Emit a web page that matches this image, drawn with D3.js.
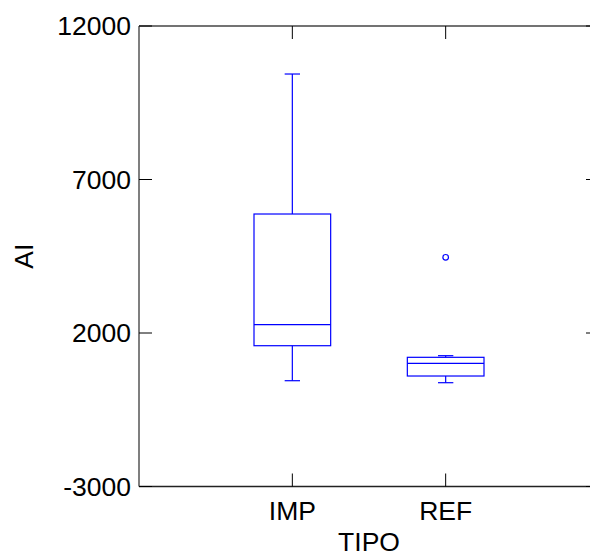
<!DOCTYPE html>
<html>
<head>
<meta charset="utf-8">
<script src="https://cdn.jsdelivr.net/npm/d3@7"></script>
<style>
  body { margin: 0; background: #fff; }
  svg text { font-family: "Liberation Sans", Arial, sans-serif; fill: #000; }
</style>
</head>
<body>
<div id="chart"></div>
<script>
// Box plot stats
const categories = ['IMP', 'REF'];
const whiskerLow = [446, 381];
const q1 = [1586, 599];
const median = [2270, 1013];
const q3 = [5876, 1208];
const whiskerHigh = [10436, 1261];
const outliers = [[], [4466]];
const yTicks = [-3000, 2000, 7000, 12000];

const width = 590, height = 553;
const margin = { top: 26, right: -9, bottom: 66.5, left: 139 };
const innerW = width - margin.left - margin.right;
const innerH = height - margin.top - margin.bottom;

const svg = d3.select('#chart')
    .append('svg')
    .attr('width', width)
    .attr('height', height);

const g = svg.append('g')
    .attr('transform', `translate(${margin.left},${margin.top})`);

// Scales
const x = d3.scaleLinear().domain([0, 3]).range([0, innerW]);
const y = d3.scaleLinear().domain([-3000, 12000]).range([innerH, 0]);

const tickLen = 13;
const fontSize = 26.5;

// Frame
g.append('line').attr('x1', 0).attr('x2', 0).attr('y1', 0).attr('y2', innerH)
    .attr('stroke', '#555').attr('stroke-width', 1.5);
g.append('line').attr('x1', 0).attr('x2', innerW).attr('y1', innerH).attr('y2', innerH)
    .attr('stroke', '#222').attr('stroke-width', 1.5);
g.append('line').attr('x1', 0).attr('x2', innerW).attr('y1', 0).attr('y2', 0)
    .attr('stroke', '#444').attr('stroke-width', 1.5);
g.append('line').attr('x1', innerW).attr('x2', innerW).attr('y1', 0).attr('y2', innerH)
    .attr('stroke', '#444').attr('stroke-width', 1.5);

// Y ticks (left and right, inward)
yTicks.forEach(t => {
    g.append('line').attr('x1', 0).attr('x2', tickLen).attr('y1', y(t)).attr('y2', y(t))
        .attr('stroke', '#000').attr('stroke-width', 1);
    g.append('line').attr('x1', innerW - tickLen).attr('x2', innerW).attr('y1', y(t)).attr('y2', y(t))
        .attr('stroke', '#000').attr('stroke-width', 1);
    g.append('text')
        .attr('x', -8)
        .attr('y', y(t))
        .attr('text-anchor', 'end')
        .attr('dominant-baseline', 'central')
        .style('font-size', fontSize + 'px')
        .text(t);
});

// X ticks (top and bottom, inward)
categories.forEach((c, i) => {
    const cx = x(i + 1);
    g.append('line').attr('x1', cx).attr('x2', cx).attr('y1', innerH - tickLen).attr('y2', innerH)
        .attr('stroke', '#000').attr('stroke-width', 1);
    g.append('line').attr('x1', cx).attr('x2', cx).attr('y1', 0).attr('y2', tickLen)
        .attr('stroke', '#000').attr('stroke-width', 1);
    g.append('text')
        .attr('x', cx)
        .attr('y', innerH + 33.5)
        .attr('text-anchor', 'middle')
        .style('font-size', fontSize + 'px')
        .text(c);
});

// Boxes
const color = '#0000ff';
const boxHalf = x(0.25) - x(0);
const capHalf = x(0.05) - x(0);

categories.forEach((c, i) => {
    const cx = x(i + 1);
    const box = g.append('g').attr('stroke', color).attr('stroke-width', 1.2).attr('fill', 'none');
    box.append('rect')
        .attr('x', cx - boxHalf)
        .attr('y', y(q3[i]))
        .attr('width', boxHalf * 2)
        .attr('height', y(q1[i]) - y(q3[i]));
    box.append('line').attr('x1', cx - boxHalf).attr('x2', cx + boxHalf)
        .attr('y1', y(median[i])).attr('y2', y(median[i]));
    // whiskers
    box.append('line').attr('x1', cx).attr('x2', cx)
        .attr('y1', y(q3[i])).attr('y2', y(whiskerHigh[i]));
    box.append('line').attr('x1', cx).attr('x2', cx)
        .attr('y1', y(q1[i])).attr('y2', y(whiskerLow[i]));
    box.append('line').attr('x1', cx - capHalf).attr('x2', cx + capHalf)
        .attr('y1', y(whiskerHigh[i])).attr('y2', y(whiskerHigh[i]));
    box.append('line').attr('x1', cx - capHalf).attr('x2', cx + capHalf)
        .attr('y1', y(whiskerLow[i])).attr('y2', y(whiskerLow[i]));
    outliers[i].forEach(v => {
        box.append('circle').attr('cx', cx).attr('cy', y(v)).attr('r', 2.8);
    });
});

// Axis titles
svg.append('text')
    .attr('x', margin.left + innerW / 2)
    .attr('y', 551)
    .attr('text-anchor', 'middle')
    .style('font-size', fontSize + 'px')
    .text('TIPO');

svg.append('text')
    .attr('transform', `translate(33,${margin.top + innerH / 2}) rotate(-90)`)
    .attr('text-anchor', 'middle')
    .style('font-size', fontSize + 'px')
    .text('AI');
</script>
</body>
</html>
